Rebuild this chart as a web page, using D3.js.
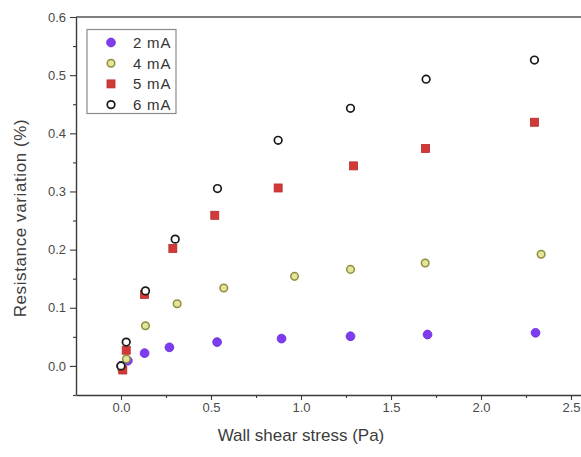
<!DOCTYPE html>
<html>
<head>
<meta charset="utf-8">
<script src="https://cdn.jsdelivr.net/npm/d3@7"></script>
<style>
  html, body { margin: 0; padding: 0; background: #fff; }
  svg { display: block; font-family: "Liberation Sans", Arial, sans-serif; }
</style>
</head>
<body>
<svg id="chart" width="581" height="457"></svg>
<script>
// Wall shear stress (Pa) against resistance variation (%), one series per heating current
const seriesNames = ["2 mA", "4 mA", "5 mA", "6 mA"];

const stress2mA = [0.0, 0.038, 0.131, 0.269, 0.534, 0.892, 1.275, 1.703, 2.303];
const resist2mA = [0.0, 0.009, 0.022, 0.032, 0.041, 0.047, 0.051, 0.054, 0.057];

const stress4mA = [0.005, 0.03, 0.136, 0.312, 0.571, 0.964, 1.275, 1.69, 2.334];
const resist4mA = [-0.006, 0.012, 0.069, 0.107, 0.134, 0.154, 0.166, 0.177, 0.192];

const stress5mA = [0.01, 0.029, 0.131, 0.288, 0.521, 0.873, 1.292, 1.692, 2.297];
const resist5mA = [-0.007, 0.027, 0.123, 0.202, 0.259, 0.306, 0.344, 0.374, 0.419];

const stress6mA = [0.0, 0.029, 0.136, 0.301, 0.536, 0.873, 1.275, 1.695, 2.297];
const resist6mA = [0.0, 0.041, 0.129, 0.218, 0.305, 0.388, 0.443, 0.493, 0.526];

const xMajorTicks = [0.0, 0.5, 1.0, 1.5, 2.0, 2.5];
const xMinorTicks = [0.25, 0.75, 1.25, 1.75, 2.25];
const yMajorTicks = [0.0, 0.1, 0.2, 0.3, 0.4, 0.5, 0.6];
const yMinorTicks = [-0.05, 0.05, 0.15, 0.25, 0.35, 0.45, 0.55];

const xTitle = "Wall shear stress (Pa)";
const yTitle = "Resistance variation (%)";

const series = [
  { name: seriesNames[0], xs: stress2mA, ys: resist2mA, shape: "disc" },
  { name: seriesNames[1], xs: stress4mA, ys: resist4mA, shape: "olive" },
  { name: seriesNames[2], xs: stress5mA, ys: resist5mA, shape: "square" },
  { name: seriesNames[3], xs: stress6mA, ys: resist6mA, shape: "ring" }
];

const svg = d3.select("#chart");
const plot = { left: 76, right: 589, top: 17, bottom: 395 };

const x = d3.scaleLinear().domain([-0.25, 2.6]).range([plot.left, plot.right]);
const y = d3.scaleLinear().domain([-0.05, 0.6]).range([plot.bottom, plot.top]);

const axisColor = "#3a3a3a";
const textColor = "#4a4a4a";

// Frame: top and right edges
svg.append("line")
  .attr("x1", plot.left).attr("x2", plot.right)
  .attr("y1", plot.top).attr("y2", plot.top)
  .attr("stroke", "#555").attr("stroke-width", 1.4);
svg.append("line")
  .attr("x1", plot.right).attr("x2", plot.right)
  .attr("y1", plot.top).attr("y2", plot.bottom)
  .attr("stroke", "#555").attr("stroke-width", 1.4);

function styleAxis(g) {
  g.select(".domain").attr("stroke", axisColor).attr("stroke-width", 1.4);
  g.selectAll(".tick line").attr("stroke", axisColor).attr("stroke-width", 1.1);
  g.selectAll(".tick text").attr("fill", textColor).style("font-size", "13px");
}

// Bottom axis
svg.append("g")
  .attr("transform", `translate(0,${plot.bottom})`)
  .call(d3.axisBottom(x).tickValues(xMinorTicks).tickSize(3).tickFormat(""))
  .call(g => g.select(".domain").remove())
  .call(g => g.selectAll(".tick line").attr("stroke", axisColor).attr("stroke-width", 1.1));
svg.append("g")
  .attr("transform", `translate(0,${plot.bottom})`)
  .call(d3.axisBottom(x).tickValues(xMajorTicks).tickSize(5).tickSizeOuter(0)
    .tickPadding(3).tickFormat(d3.format(".1f")))
  .call(styleAxis)
  .call(g => g.attr("font-family", null));

// Left axis
svg.append("g")
  .attr("transform", `translate(${plot.left},0)`)
  .call(d3.axisLeft(y).tickValues(yMinorTicks).tickSize(3).tickFormat(""))
  .call(g => g.select(".domain").remove())
  .call(g => g.selectAll(".tick line").attr("stroke", axisColor).attr("stroke-width", 1.1));
svg.append("g")
  .attr("transform", `translate(${plot.left},0)`)
  .call(d3.axisLeft(y).tickValues(yMajorTicks).tickSize(6).tickSizeOuter(0)
    .tickPadding(4).tickFormat(d3.format(".1f")))
  .call(styleAxis)
  .call(g => g.attr("font-family", null));

// Axis titles
svg.append("text")
  .attr("x", x(1.0) - 0).attr("y", 441)
  .attr("text-anchor", "middle")
  .attr("fill", "#3c3c3c")
  .style("font-size", "17px")
  .text(xTitle);

svg.append("text")
  .attr("transform", `translate(26,218) rotate(-90)`)
  .attr("text-anchor", "middle")
  .attr("fill", "#3c3c3c")
  .style("font-size", "17px")
  .style("letter-spacing", "0.6px")
  .text(yTitle);

// Marker drawing
function drawMarker(sel, shape) {
  if (shape === "disc") {
    sel.append("circle").attr("r", 4.4)
      .attr("fill", "#7d3cf0").attr("stroke", "#6a2ad8").attr("stroke-width", 0.8);
  } else if (shape === "olive") {
    sel.append("circle").attr("r", 3.8)
      .attr("fill", "#e4e49a").attr("stroke", "#8e8e3c").attr("stroke-width", 1.5);
  } else if (shape === "square") {
    sel.append("rect").attr("x", -4).attr("y", -4).attr("width", 8).attr("height", 8)
      .attr("fill", "#d23a3a").attr("stroke", "#b82a2a").attr("stroke-width", 0.8);
  } else {
    sel.append("circle").attr("r", 3.8)
      .attr("fill", "#fff").attr("stroke", "#1a1a1a").attr("stroke-width", 1.7);
  }
}

// Data points
series.forEach(s => {
  const pts = s.xs.map((v, i) => ({ x: v, y: s.ys[i] }));
  svg.append("g").selectAll("g")
    .data(pts)
    .join("g")
    .attr("transform", d => `translate(${x(d.x)},${y(d.y)})`)
    .each(function () { drawMarker(d3.select(this), s.shape); });
});

// Legend
const legend = svg.append("g");
legend.append("rect")
  .attr("x", 87).attr("y", 29.5).attr("width", 89).attr("height", 84)
  .attr("fill", "#fff").attr("stroke", "#8a8a8a").attr("stroke-width", 1.2);
series.forEach((s, i) => {
  const row = legend.append("g").attr("transform", `translate(0,${42.5 + i * 20.7})`);
  const m = row.append("g").attr("transform", "translate(111,0)");
  drawMarker(m, s.shape);
  row.append("text")
    .attr("x", 133).attr("y", 0).attr("dy", "0.36em")
    .attr("fill", "#333")
    .style("font-size", "15px")
    .style("letter-spacing", "0.8px")
    .text(s.name);
});
</script>
</body>
</html>
